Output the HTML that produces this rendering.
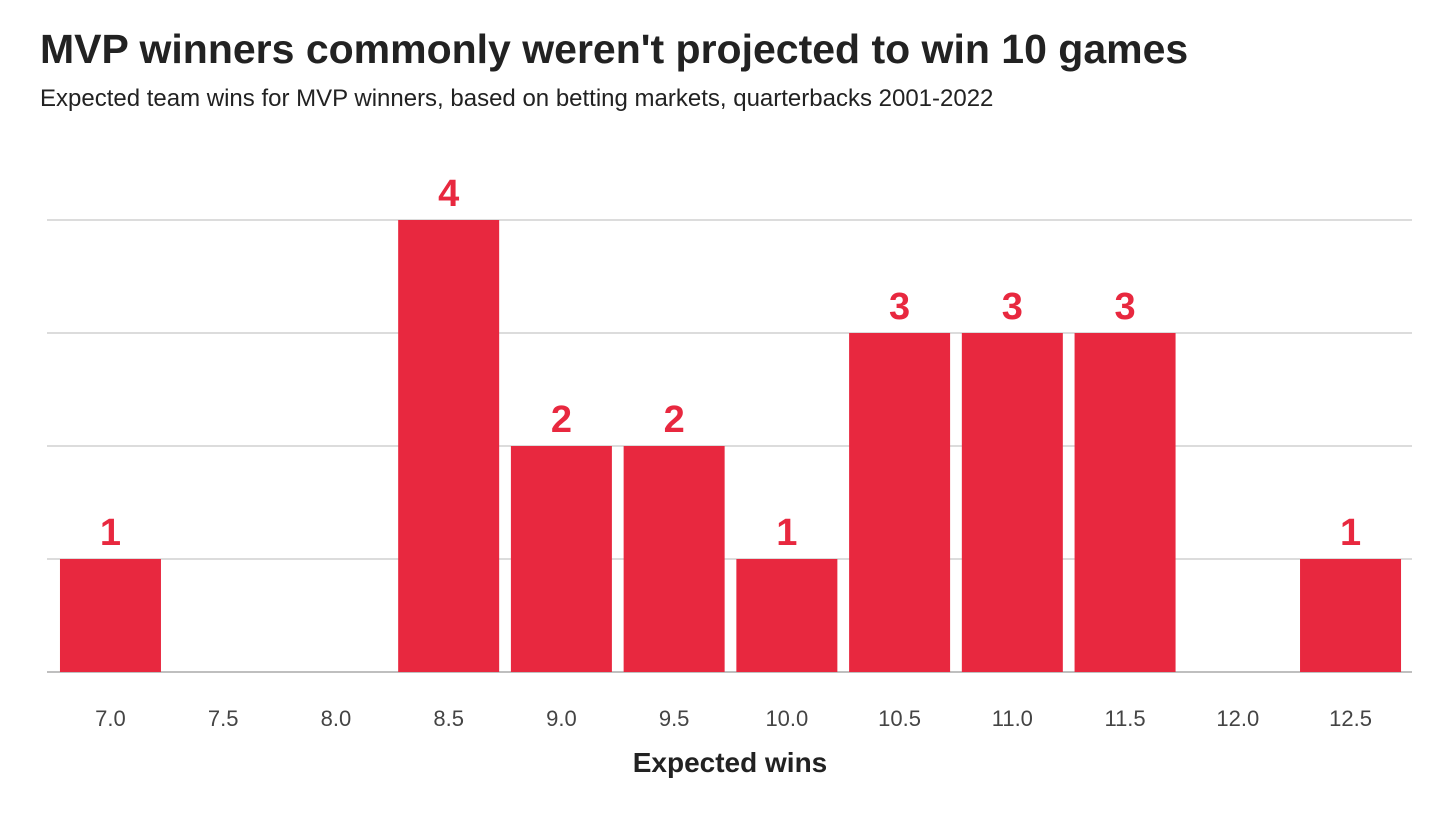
<!DOCTYPE html>
<html><head><meta charset="utf-8"><style>
body{margin:0;background:#fff;font-family:"Liberation Sans",sans-serif;}
svg{display:block}
</style></head><body>
<svg id="chart" width="1456" height="819" viewBox="0 0 1456 819">
<text x="40" y="63" font-size="41" font-weight="bold" fill="#222">MVP winners commonly weren't projected to win 10 games</text>
<text x="40" y="106" font-size="24" fill="#222">Expected team wins for MVP winners, based on betting markets, quarterbacks 2001-2022</text>
<g id="grid"></g>
<g id="bars"></g>
<g id="xticks"></g>
<text x="730" y="772" font-size="28" font-weight="bold" fill="#222" text-anchor="middle">Expected wins</text>
</svg>
<script>
const categories=["7.0","7.5","8.0","8.5","9.0","9.5","10.0","10.5","11.0","11.5","12.0","12.5"];
const counts=[1,0,0,4,2,2,1,3,3,3,0,1];
const yTicks=[0,1,2,3,4];
const NS="http://www.w3.org/2000/svg";
const x0=54.1,x1=1406.9,bw=(x1-x0)/categories.length,barW=101;
const yBase=672,unit=113;
const xC=i=>x0+bw*(i+0.5);
const y=v=>yBase-v*unit;
function mk(t,a,p){const e=document.createElementNS(NS,t);for(const k in a)e.setAttribute(k,a[k]);p.appendChild(e);return e;}
const g=document.getElementById('grid');
yTicks.forEach(v=>{const l=mk('line',{x1:47,x2:1412,y1:y(v),y2:y(v),stroke:v===0?'#999':'#c8c8c8','stroke-width':1.2},g);

});
const b=document.getElementById('bars');
counts.forEach((c,i)=>{if(c<=0)return;
const r=mk('rect',{x:xC(i)-barW/2,y:y(c),width:barW,height:y(0)-y(c),fill:'#e8283f'},b);


const t=mk('text',{x:xC(i),y:y(c)-14,'font-size':38,'font-weight':'bold',fill:'#e8283f','text-anchor':'middle'},b);
t.textContent=c;

});
const xt=document.getElementById('xticks');
categories.forEach((c,i)=>{const t=mk('text',{x:xC(i),y:726,'font-size':22,fill:'#444','text-anchor':'middle'},xt);
t.textContent=c;

});
</script>
</body></html>
